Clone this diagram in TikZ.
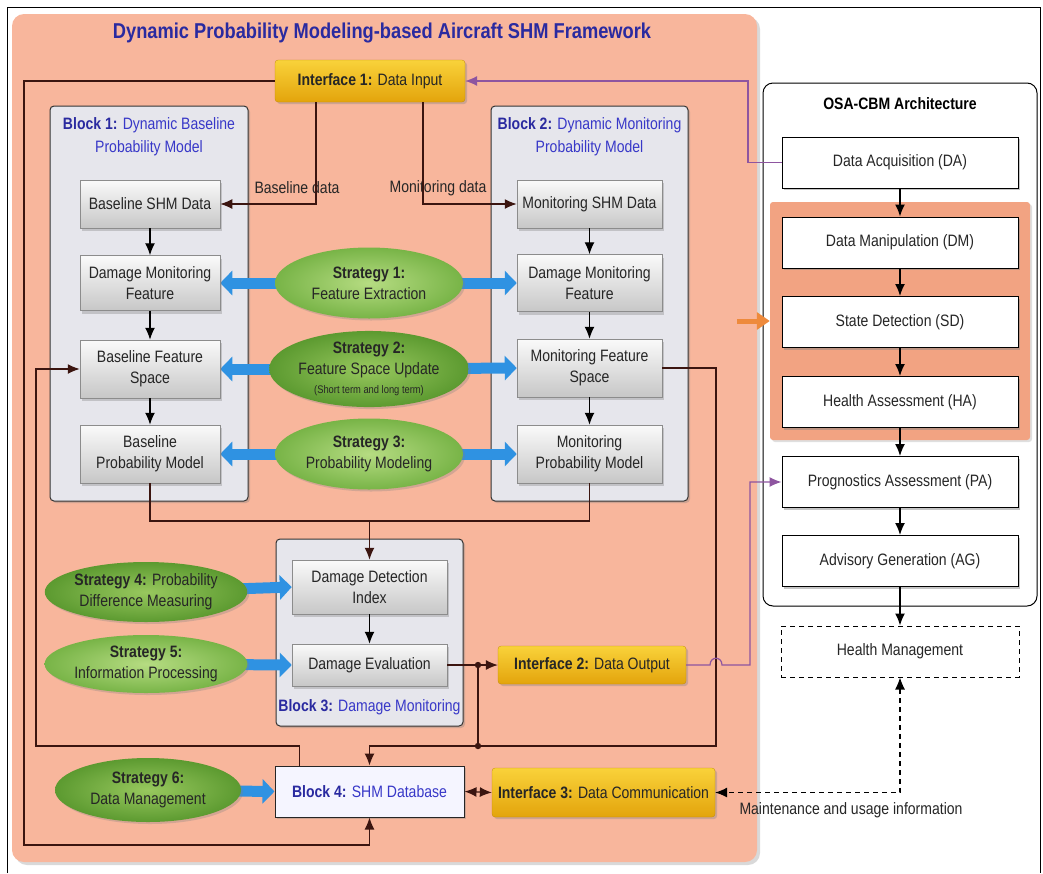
\documentclass[tikz,border=0pt]{standalone}
\usepackage{fontspec}
\setmainfont{Liberation Sans}[FakeStretch=0.85]
\usetikzlibrary{shapes.geometric,arrows.meta,shadows,calc}
\pgfdeclarelayer{background}
\pgfdeclarelayer{middle}
\pgfsetlayers{background,middle,main}

\definecolor{panelc}{HTML}{F8B69C}
\definecolor{subpanelc}{HTML}{F2A382}
\definecolor{blockc}{HTML}{E6E6EC}
\definecolor{wirec}{HTML}{3B1510}
\definecolor{titleblue}{HTML}{2A2AA0}
\definecolor{lblue}{HTML}{3838C8}
\definecolor{purp}{HTML}{8E55A0}
\definecolor{fatblue}{HTML}{2F92E2}
\definecolor{orng}{HTML}{EE8A3C}
\definecolor{ifTop}{HTML}{F9D23A}
\definecolor{ifBot}{HTML}{E3A40C}
\definecolor{grnIn}{HTML}{B6DC82}
\definecolor{grnOut}{HTML}{78B447}
\definecolor{grnInD}{HTML}{98C85E}
\definecolor{grnOutD}{HTML}{5C9A30}

\begin{document}
\begin{tikzpicture}[x=1pt,y=-1pt,
  txt/.style={font=\fontsize{16.5}{21}\selectfont, align=center, inner sep=1pt, text=black!85},
  greybox/.style={txt, draw=black!45, line width=0.5pt, top color=black!2, bottom color=black!22,
    drop shadow={shadow xshift=2pt,shadow yshift=-3pt,opacity=0.35}},
  blockframe/.style={draw=black!80, line width=1pt, fill=blockc, rounded corners=4pt, inner sep=0pt,
    drop shadow={shadow xshift=2pt,shadow yshift=-2pt,opacity=0.35}},
  blocktitle/.style={txt, text=lblue, font=\fontsize{16.5}{23}\selectfont},
  strat/.style={txt, ellipse, inner sep=0pt, inner color=grnIn, outer color=grnOut,
    drop shadow={shadow xshift=2pt,shadow yshift=-2pt,opacity=0.3}},
  stratdark/.style={strat, inner color=grnInD, outer color=grnOutD},
  iface/.style={txt, top color=ifTop, bottom color=ifBot, draw=ifBot!85!black, line width=0.3pt,
    rounded corners=3pt, drop shadow={shadow xshift=2pt,shadow yshift=-2pt,opacity=0.35}},
  osabox/.style={txt, draw=black, line width=1pt, fill=white, minimum width=236pt, minimum height=51pt,
    drop shadow={shadow xshift=2pt,shadow yshift=-2pt,opacity=0.45}},
  wire/.style={draw=wirec, line width=1.3pt},
  wiretip/.style={-{Latex[length=12pt,width=10pt]}},
  wiretips/.style={{Latex[length=12pt,width=10pt]}-{Latex[length=12pt,width=10pt]}},
  fat/.style={line width=11pt, draw=fatblue, -{Triangle[length=12pt,width=24pt]}},
  osaarrow/.style={draw=black, line width=1.5pt, -{Latex[length=12pt,width=10pt]}},
  purpwire/.style={draw=purp, line width=1.2pt, -{Latex[length=12pt,width=10pt]}}
]
\useasboundingbox (0,0) rectangle (1043,873);

% outer frame
\draw[black, line width=0.8pt] (7,873) -- (7,7) -- (1040,7) -- (1040,873);

% framework panel and block frames
\begin{pgfonlayer}{background}
  \node[fill=panelc, rounded corners=12pt, inner sep=0pt, minimum width=745pt, minimum height=848pt,
        drop shadow={shadow xshift=3pt,shadow yshift=-3pt,opacity=0.3}] (panel) at (384.5,438) {};
  \node[blockframe, minimum width=198pt, minimum height=395pt] (blk1) at (149,303.5) {};
  \node[blockframe, minimum width=197pt, minimum height=395pt] (blk2) at (589.5,303.5) {};
  \node[blockframe, minimum width=187pt, minimum height=187pt] (blk3) at (369.5,632.5) {};
\end{pgfonlayer}

\node[font=\bfseries\fontsize{21.5}{24}\selectfont, text=titleblue] (title) at (382,33)
  {Dynamic Probability Modeling-based Aircraft SHM Framework};

% interfaces
\node[iface, minimum width=190pt, minimum height=42pt] (if1) at (370,81)
  {\textbf{Interface 1:} Data Input};
\node[iface, minimum width=188pt, minimum height=38pt] (if2) at (592,665)
  {\textbf{Interface 2:} Data Output};
\node[iface, minimum width=223pt, minimum height=49pt] (if3) at (603.5,792.5)
  {\textbf{Interface 3:} Data Communication};

% block titles
\node[blocktitle] (blk1t) at (149,136.5) {\textbf{\color{titleblue}Block 1:} Dynamic Baseline\\Probability Model};
\node[blocktitle] (blk2t) at (589.5,136.5) {\textbf{\color{titleblue}Block 2:} Dynamic Monitoring\\Probability Model};
\node[blocktitle] (blk3t) at (369.5,707) {\textbf{\color{titleblue}Block 3:} Damage Monitoring};

% block 1 contents
\node[greybox, minimum width=140pt, minimum height=48pt] (b1d) at (150,204) {Baseline SHM Data};
\node[greybox, minimum width=140pt, minimum height=55pt] (b1f) at (150,283) {Damage Monitoring\\Feature};
\node[greybox, minimum width=140pt, minimum height=58pt] (b1s) at (150,369) {Baseline Feature\\Space};
\node[greybox, minimum width=140pt, minimum height=58pt] (b1p) at (150,454) {Baseline\\Probability Model};

% block 2 contents
\node[greybox, minimum width=145pt, minimum height=48pt] (b2d) at (589.5,204) {Monitoring SHM Data};
\node[greybox, minimum width=145pt, minimum height=57pt] (b2f) at (589.5,283) {Damage Monitoring\\Feature};
\node[greybox, minimum width=145pt, minimum height=58pt] (b2s) at (589.5,368) {Monitoring Feature\\Space};
\node[greybox, minimum width=145pt, minimum height=58pt] (b2p) at (589.5,454) {Monitoring\\Probability Model};

% block 3 contents
\node[greybox, minimum width=155pt, minimum height=54pt] (b3i) at (369.5,587) {Damage Detection\\Index};
\node[greybox, minimum width=155pt, minimum height=42pt] (b3e) at (369.5,665) {Damage Evaluation};

% block 4
\node[txt, draw=black!85, line width=1pt, fill=blue!4!white, minimum width=189pt, minimum height=51pt,
      text=lblue, drop shadow={shadow xshift=2pt,shadow yshift=-2pt,opacity=0.35}] (b4) at (369.5,791.5)
  {\textbf{\color{titleblue}Block 4:} SHM Database};

% strategies
\node[strat, minimum width=188pt, minimum height=71pt] (s1) at (369,283) {\textbf{Strategy 1:}\\Feature Extraction};
\node[stratdark, minimum width=188pt, minimum height=76pt] (s2) at (369,369)
  {\textbf{Strategy 2:}\\Feature Space Update\\[-2pt]{\fontsize{11}{12}\selectfont (Short term and long term)}};
\node[strat, minimum width=188pt, minimum height=71pt] (s3) at (369,454) {\textbf{Strategy 3:}\\Probability Modeling};
\node[stratdark, minimum width=186pt, minimum height=60pt] (s4) at (146,592) {\textbf{Strategy 4:} Probability\\Difference Measuring};
\node[strat, minimum width=186pt, minimum height=58pt] (s5) at (146,664) {\textbf{Strategy 5:}\\Information Processing};
\node[stratdark, minimum width=186pt, minimum height=64pt] (s6) at (148,790) {\textbf{Strategy 6:}\\Data Management};

% strategy arrows
\begin{pgfonlayer}{middle}
  \foreach \s/\b in {s1/b1f, s2/b1s, s3/b1p}
    \draw[fat] (\s.center) -- (\b.east);
  \foreach \s/\b in {s1/b2f, s2/b2s, s3/b2p, s4/b3i, s5/b3e, s6/b4}
    \draw[fat] (\s.center) -- (\b.west);
\end{pgfonlayer}

% data input lines
\node[txt] (lblbase) at (297,188) {Baseline data};
\node[txt] (lblmon) at (438,188) {Monitoring data};
\draw[wire, wiretip] ([xshift=-54pt]if1.south) |- (b1d.east);
\draw[wire, wiretip] ([xshift=53pt]if1.south) |- (b2d.west);

% flow inside blocks
\foreach \a/\b in {b1d/b1f, b1f/b1s, b1s/b1p, b2d/b2f, b2f/b2s, b2s/b2p, b3i/b3e}
  \draw[wire, draw=black, wiretip] (\a) -- (\b);

% probability models to damage detection
\coordinate (join) at (369.5,521);
\draw[wire] (b1p.south) |- (join);
\draw[wire] (b2p.south) |- (join);
\draw[wire, wiretip] (join) -- (b3i.north);

% damage evaluation to output and database
\coordinate (j1) at (478,665);
\coordinate (j2) at (478,746);
\draw[wire, wiretip] (b3e.east) -- (if2.west);
\draw[wire] (j1) -- (j2);
\fill[wirec] (j1) circle (3.2pt);
\fill[wirec] (j2) circle (3.2pt);
\draw[wire, wiretip] (b2s.east) -| (716,746) -| (b4.north);

% database feedback to baseline feature space
\draw[wire, wiretip] ([xshift=-70pt]b4.north) |- (36,746) |- (b1s.west);

% data input archive to database
\draw[wire, wiretip] (if1.west) -| (24,845) -| (b4.south);

% database and communication interface
\draw[wire, wiretips] (b4.east) -- (if3.west);

% OSA-CBM architecture
\node[draw=black, line width=1pt, fill=white, rounded corners=10pt, minimum width=274pt, minimum height=523pt,
      inner sep=0pt] (osa) at (900,344.5) {};
\node[font=\bfseries\fontsize{16.5}{20}\selectfont] (osat) at (900,104) {OSA-CBM Architecture};
\node[fill=subpanelc, rounded corners=3pt, minimum width=260pt, minimum height=238pt, inner sep=0pt,
      drop shadow={shadow xshift=2pt,shadow yshift=-2pt,opacity=0.25}] (sub) at (900,321) {};
\node[osabox] (da) at (900,162.5) {Data Acquisition (DA)};
\node[osabox] (dm) at (900,242.5) {Data Manipulation (DM)};
\node[osabox] (sd) at (900,322) {State Detection (SD)};
\node[osabox] (ha) at (900,402) {Health Assessment (HA)};
\node[osabox] (pa) at (900,482) {Prognostics Assessment (PA)};
\node[osabox] (ag) at (900,561) {Advisory Generation (AG)};
\node[txt, draw=black, dash pattern=on 5pt off 4pt, line width=1pt, fill=white, minimum width=238pt, minimum height=51pt] (hm) at (900,651.5)
  {Health Management};
\foreach \a/\b in {da/dm, dm/sd, sd/ha, ha/pa, pa/ag, ag/hm}
  \draw[osaarrow] (\a) -- (\b);

% framework to OSA-CBM correspondence
\draw[draw=orng, line width=5pt, -{Triangle[length=13pt,width=17pt]}] ([xshift=-20pt]panel.east |- sub.west) -- (sub.west);

% links between the framework and OSA-CBM
\draw[purpwire] (da.west) -| (748,81) -- (if1.east);
\draw[purpwire] (if2.east) -- (710,665) .. controls (710,656) and (722,656) .. (722,665) -- (750,665) |- (pa.west);

% maintenance information
\draw[draw=black, line width=1.1pt, dash pattern=on 5pt off 4pt, wiretips] (hm.south) |- (if3.east);
\node[txt] (lblmaint) at (851,810) {Maintenance and usage information};

\end{tikzpicture}
\end{document}
